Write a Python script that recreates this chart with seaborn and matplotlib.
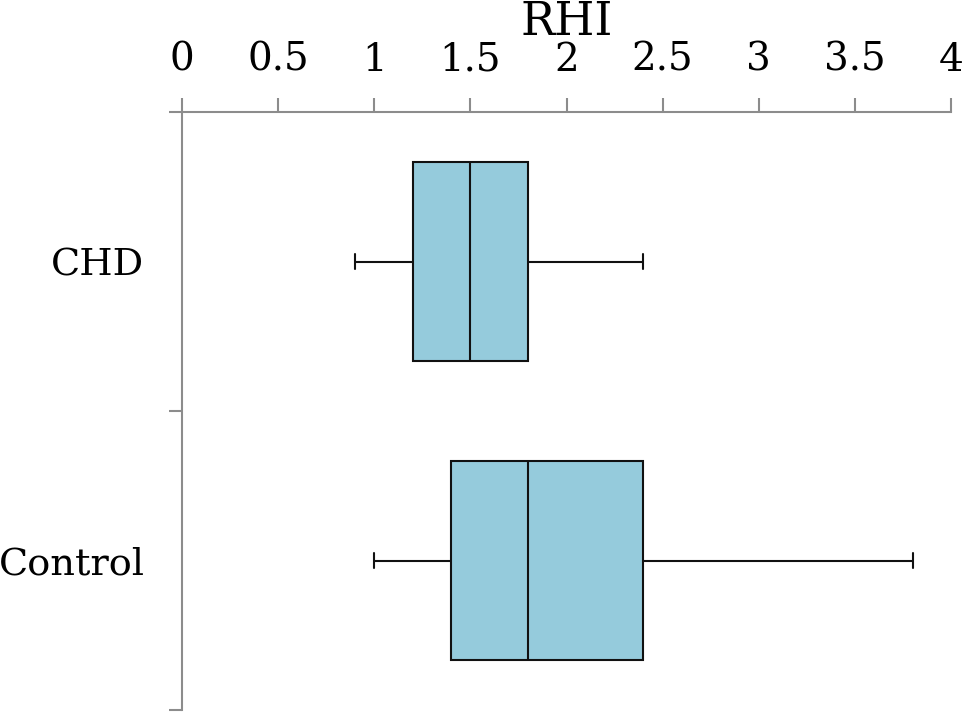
import pandas as pd
import seaborn as sns
import matplotlib

matplotlib.use("Agg")
import matplotlib.pyplot as plt

# five-number summaries (min, q1, median, q3, max)
groups = ["CHD", "Control"]
chd_rhi = [0.9, 1.2, 1.5, 1.8, 2.4]
control_rhi = [1.0, 1.4, 1.8, 2.4, 3.8]

x_ticks = [0, 0.5, 1, 1.5, 2, 2.5, 3, 3.5, 4]
x_tick_labels = ["0", "0.5", "1", "1.5", "2", "2.5", "3", "3.5", "4"]

box_color = "#95cbdc"
axis_gray = "#8c8c8c"

sns.set_theme(style="white")
plt.rcParams["font.family"] = ["DejaVu Serif"]

df = pd.DataFrame(
    {
        "group": [groups[0]] * len(chd_rhi) + [groups[1]] * len(control_rhi),
        "RHI": chd_rhi + control_rhi,
    }
)

fig = plt.figure(figsize=(9.64, 7.14), dpi=100)
ax = fig.add_axes([182 / 964, 4 / 714, (951 - 182) / 964, (710 - 112) / 714])

sns.boxplot(
    data=df,
    x="RHI",
    y="group",
    order=groups,
    color=box_color,
    saturation=1,
    width=0.667,
    linecolor="#111111",
    linewidth=1.5,
    whis=(0, 100),
    capwidths=0.05,
    ax=ax,
)

ax.set_xlim(0, 4)
ax.set_ylim(1.5, -0.5)

# x axis on top
ax.xaxis.tick_top()
ax.xaxis.set_label_position("top")
ax.set_xticks(x_ticks, x_tick_labels)
ax.set_xlabel("RHI", fontsize=33, color="black", labelpad=5)
ax.tick_params(axis="x", length=10, width=1.5, color=axis_gray, pad=14,
               labelsize=28, labelcolor="black")

# y axis: labels at centres, ticks at band edges
ax.set_yticks([0, 1], groups)
ax.set_yticks([-0.5, 0.5, 1.5], minor=True)
ax.set_ylabel("")
ax.tick_params(axis="y", which="major", length=0, pad=27,
               labelsize=27.5, labelcolor="black")
ax.tick_params(axis="y", which="minor", length=9.5, width=1.5,
               color=axis_gray, left=True)

for side in ["bottom", "right"]:
    ax.spines[side].set_visible(False)
for side in ["top", "left"]:
    ax.spines[side].set_visible(True)
    ax.spines[side].set_color(axis_gray)
    ax.spines[side].set_linewidth(1.5)

fig.savefig("out.png", dpi=100)
